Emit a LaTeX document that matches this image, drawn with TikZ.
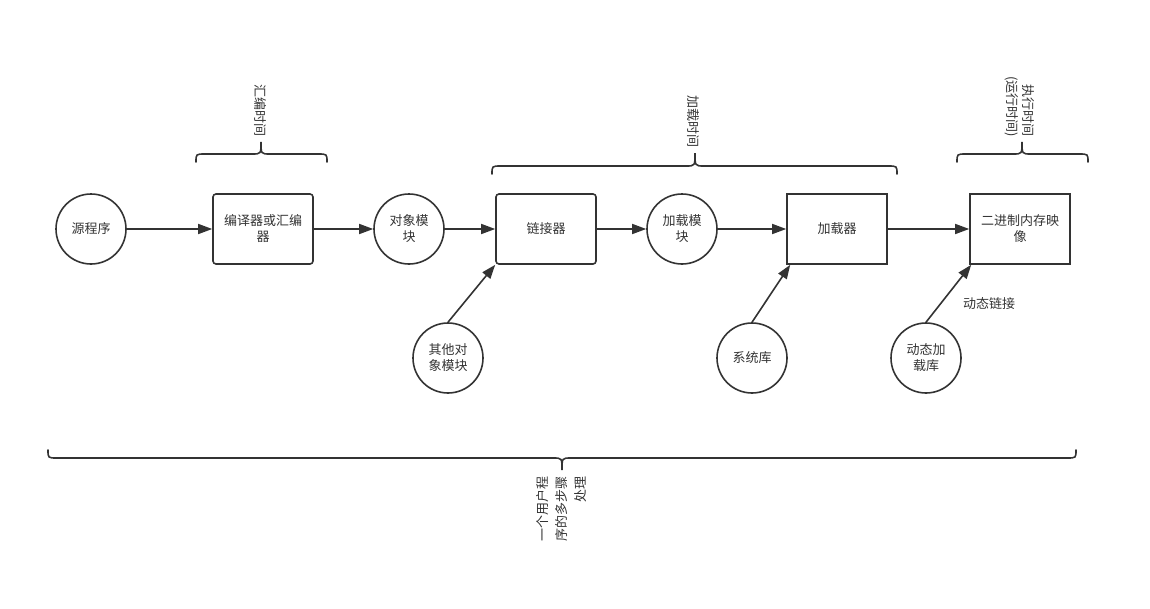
\documentclass[tikz,border=0pt]{standalone}
\usepackage{fontspec}
\setmainfont{Noto Sans CJK SC}
\usetikzlibrary{arrows.meta,calc}
\definecolor{ink}{HTML}{333333}
\begin{document}
\begin{tikzpicture}[x=1pt,y=-1pt,
  every node/.style={text=ink,font=\fontsize{13}{16}\selectfont},
  circ/.style={draw=ink,line width=1.6pt,circle,minimum size=70pt,inner sep=0pt,align=center},
  rbox/.style={draw=ink,line width=1.6pt,rectangle,rounded corners=3pt,minimum width=100pt,minimum height=70pt,inner sep=0pt,align=center},
  sbox/.style={draw=ink,line width=1.6pt,rectangle,minimum width=100pt,minimum height=70pt,inner sep=0pt,align=center},
  conn/.style={draw=ink,line width=1.6pt,-{Triangle[length=14pt,width=10pt]}},
  brace/.style={draw=ink,line width=1.6pt,line cap=round},
  vlabel/.style={inner sep=0pt,align=right}
]
\useasboundingbox (0,0) rectangle (1150,608);

% main row
\node[circ] (src) at (91,229) {源程序};
\node[rbox] (comp) at (263,229) {编译器或汇编\\器};
\node[circ] (obj) at (409,229) {对象模\\块};
\node[rbox] (link) at (546,229) {链接器};
\node[circ] (loadmod) at (682,229) {加载模\\块};
\node[sbox] (loader) at (837,229) {加载器};
\node[sbox] (image) at (1020,229) {二进制内存映\\像};

% lower row
\node[circ] (other) at (448,358) {其他对\\象模块};
\node[circ] (syslib) at (752,358) {系统库};
\node[circ] (dynlib) at (926,358) {动态加\\载库};

% connectors
\draw[conn] (src) -- (comp);
\draw[conn] (comp) -- (obj);
\draw[conn] (obj) -- (link);
\draw[conn] (link) -- (loadmod);
\draw[conn] (loadmod) -- (loader);
\draw[conn] (loader) -- (image);
\draw[conn] (other.north) -- (link.south west);
\draw[conn] (syslib.north) -- ($(loader.south west)+(4,0)$);
\draw[conn] (dynlib.north) -- ($(image.south west)+(2,0)$);

\node (dynlabel) at (989,304) {动态链接};

% braces
\draw[brace] (196,162) .. controls (196,154) .. (205,154) -- (252,154)
  .. controls (261,154) .. (261,142) .. controls (261,154) .. (270,154) -- (318,154)
  .. controls (327,154) .. (327,162);
\draw[brace] (492,174) .. controls (492,166) .. (501,166) -- (686,166)
  .. controls (695,166) .. (695,153) .. controls (695,166) .. (704,166) -- (888,166)
  .. controls (897,166) .. (897,174);
\draw[brace] (957,162) .. controls (957,154) .. (966,154) -- (1013,154)
  .. controls (1022,154) .. (1022,142) .. controls (1022,154) .. (1031,154) -- (1079,154)
  .. controls (1088,154) .. (1088,162);
\draw[brace] (48,450) .. controls (48,458) .. (57,458) -- (553,458)
  .. controls (562,458) .. (562,470) .. controls (562,458) .. (571,458) -- (1067,458)
  .. controls (1076,458) .. (1076,450);

% rotated labels
\node[vlabel,rotate=-90,anchor=east] (asmtime) at (260,137) {汇编时间};
\node[vlabel,rotate=-90,anchor=east] (loadtime) at (693,148) {加载时间};
\node[vlabel,rotate=-90,anchor=east] (runtime) at (1020,137) {执行时间\\(运行时间)};
\node[vlabel,rotate=90,anchor=east,font=\fontsize{13}{19}\selectfont] (multistep) at (562,476) {一个用户程\\序的多步骤\\处理};
\end{tikzpicture}
\end{document}
